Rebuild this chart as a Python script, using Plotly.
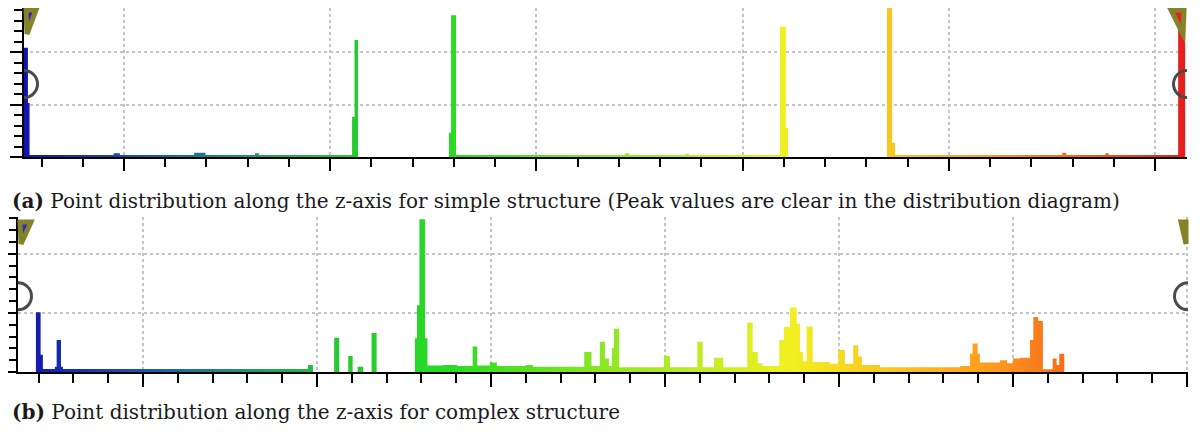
import plotly.graph_objects as go

# ---------------- data (step histograms: bin start along z, point count) ----------------
z_simple = [-0.485, -0.466, -0.458, -0.05, -0.02, 0.34, 0.395, 0.635, 0.655, 1.106, 1.118,
            1.135, 1.576, 1.586, 1.610, 2.43, 2.45, 2.72, 2.74, 3.181, 3.210, 3.220, 3.700,
            3.725, 3.739, 4.55, 4.57, 4.76, 4.775, 5.112, 5.146]
count_simple = [2.08, 1.03, 0.04, 0.07, 0.04, 0.08, 0.04, 0.07, 0.04, 0.76, 2.23,
                0, 0.46, 2.70, 0.04, 0.07, 0.04, 0.06, 0.04, 2.48, 0.55, 0, 2.86,
                0.27, 0.04, 0.08, 0.04, 0.07, 0.04, 2.85, 0]

z_complex = [-0.718, -0.615, -0.588, -0.575, -0.506, -0.496, -0.471, -0.460, 0.948, 0.977,
             1.099, 1.128, 1.180, 1.205, 1.234, 1.266, 1.314, 1.343, 1.563, 1.575, 1.589,
             1.621, 1.635, 1.724, 1.805, 1.895, 1.921, 1.994, 2.034, 2.20, 2.24, 2.536,
             2.578, 2.626, 2.655, 2.678, 2.695, 2.707, 2.737, 2.994, 3.029, 3.186, 3.217,
             3.282, 3.335, 3.473, 3.504, 3.534, 3.56, 3.657, 3.684, 3.718, 3.757, 3.776,
             3.793, 3.814, 3.849, 3.948, 3.996, 4.034, 4.082, 4.111, 4.132, 4.236, 4.695,
             4.753, 4.768, 4.797, 4.810, 4.925, 4.966, 5.000, 5.040, 5.098, 5.117, 5.145,
             5.172, 5.228, 5.251, 5.266, 5.295]
count_complex = [0, 1.01, 0.29, 0.05, 0.09, 0.54, 0.09, 0.05, 0.12, 0,
                 0.58, 0, 0.27, 0, 0.09, 0, 0.66, 0, 0.57, 1.13, 2.58,
                 0.57, 0.11, 0.12, 0.10, 0.43, 0.11, 0.16, 0.10, 0.12, 0.09, 0.34,
                 0.10, 0.51, 0.23, 0.10, 0.40, 0.73, 0.08, 0.27, 0.08, 0.51, 0.08,
                 0.24, 0.08, 0.835, 0.34, 0.15, 0.10, 0.54, 0.76, 1.09, 0.82, 0.34,
                 0.18, 0.77, 0.17, 0.14, 0.37, 0.14, 0.45, 0.26, 0.12, 0.08, 0.10,
                 0.31, 0.48, 0.31, 0.16, 0.20, 0.15, 0.23, 0.24, 0.54, 0.93, 0.86,
                 0.045, 0.23, 0.12, 0.31, 0]

z_range_simple = [-0.485, 5.155]
z_range_complex = [-0.718, 6.006]
count_range_simple = [0, 2.838]
count_range_complex = [0, 2.62]

caption_a = "<b>(a)</b> Point distribution along the z-axis for simple structure (Peak values are clear in the distribution diagram)"
caption_b = "<b>(b)</b> Point distribution along the z-axis for complex structure"

# ---------------- styling ----------------
OFF = 8                      # the page body margin shifts the figure by 8 px
W, H = 1200 - OFF, 432 - OFF
colorscale = [[0, '#1212b4'], [0.14, '#1e6e9c'], [0.27, '#26c832'], [0.37, '#28dc22'],
              [0.5, '#8ce624'], [0.66, '#f2f022'], [0.83, '#ff9c1c'], [1, '#e61c1c']]
OLIVE = '#85832a'
RING = '#4a4a4a'


def fx(x):
    return min(1.0, max(0.0, (x - OFF) / W))


def fy(y):
    return min(1.0, max(0.0, 1 - (y - OFF) / H))


fig = go.Figure()

panels = [
    dict(z=z_simple, c=count_simple, zr=z_range_simple, cr=count_range_simple,
         left=24, right=1187, top=8, bottom=157, ring=1.39,
         ymaj=12, ymin=8, xmaj=12, xmin=8),
    dict(z=z_complex, c=count_complex, zr=z_range_complex, cr=count_range_complex,
         left=18, right=1188, top=217, bottom=372, ring=1.28,
         ymaj=10, ymin=7, xmaj=13, xmin=9),
]

for i, p in enumerate(panels):
    sfx = '' if i == 0 else '2'
    xa, ya = 'x' + sfx, 'y' + sfx
    fig.add_trace(go.Scatter(
        x=p['z'], y=p['c'], xaxis=xa, yaxis=ya,
        mode='lines', line=dict(width=0, shape='hv'), fill='tozeroy',
        fillgradient=dict(type='horizontal', colorscale=colorscale,
                          start=p['zr'][0], stop=p['zr'][1]),
        hoverinfo='skip', showlegend=False))
    # slider ring handles at both ends (half clipped by the plot edge)
    fig.add_trace(go.Scatter(
        x=[p['zr'][0], p['zr'][1]], y=[p['ring'], p['ring']], xaxis=xa, yaxis=ya,
        mode='markers', cliponaxis=True,
        marker=dict(symbol='circle-open', size=27, color=RING, line=dict(width=3)),
        hoverinfo='skip', showlegend=False))

    common = dict(showgrid=True, gridcolor='#c4c4c4', gridwidth=1.5, griddash='dot',
                  zeroline=False, showline=True, linecolor='black', linewidth=2,
                  showticklabels=False, ticks='outside', tickcolor='black', tickwidth=2)
    fig.layout['xaxis' + sfx] = dict(
        domain=[fx(p['left']), fx(p['right'])], range=p['zr'], anchor=ya,
        tick0=0, dtick=1, ticklen=p['xmaj'],
        minor=dict(dtick=0.2, tick0=0, ticks='outside', ticklen=p['xmin'],
                   tickcolor='black', tickwidth=2, showgrid=False),
        **common)
    fig.layout['yaxis' + sfx] = dict(
        domain=[fy(p['bottom']), fy(p['top'])], range=p['cr'], anchor=xa,
        tick0=0, dtick=1, ticklen=p['ymaj'],
        minor=dict(dtick=0.2, tick0=0, ticks='outside', ticklen=p['ymin'],
                   tickcolor='black', tickwidth=2, showgrid=False),
        **common)

# triangle slider handles (olive with end colour inside)
tri = [
    ([(26, 10), (36, 10), (27, 34)], '#2828c8'),
    ([(1184, 10), (1171, 10), (1183, 34)], '#e42222'),
    ([(20, 222), (31, 222), (21, 244)], '#2828c8'),
    ([(1186, 222), (1181, 222), (1186, 244)], '#e42222'),
]
for pts, fc in tri:
    path = 'M ' + ' L '.join('{:.5f},{:.5f}'.format(fx(x), fy(y)) for x, y in pts) + ' Z'
    fig.add_shape(type='path', xref='paper', yref='paper', path=path,
                  fillcolor=fc, line=dict(color=OLIVE, width=5), layer='above')

cap_font = dict(family='DejaVu Serif, serif', size=20, color='#1a1a1a')
fig.add_annotation(text=caption_a, xref='paper', yref='paper', x=fx(10), y=fy(201),
                   xanchor='left', yanchor='middle', showarrow=False, font=cap_font)
fig.add_annotation(text=caption_b, xref='paper', yref='paper', x=fx(10), y=fy(412),
                   xanchor='left', yanchor='middle', showarrow=False, font=cap_font)

fig.update_layout(width=W, height=H, margin=dict(l=0, r=0, t=0, b=0),
                  paper_bgcolor='white', plot_bgcolor='white', showlegend=False)

fig.write_html("out.html")
